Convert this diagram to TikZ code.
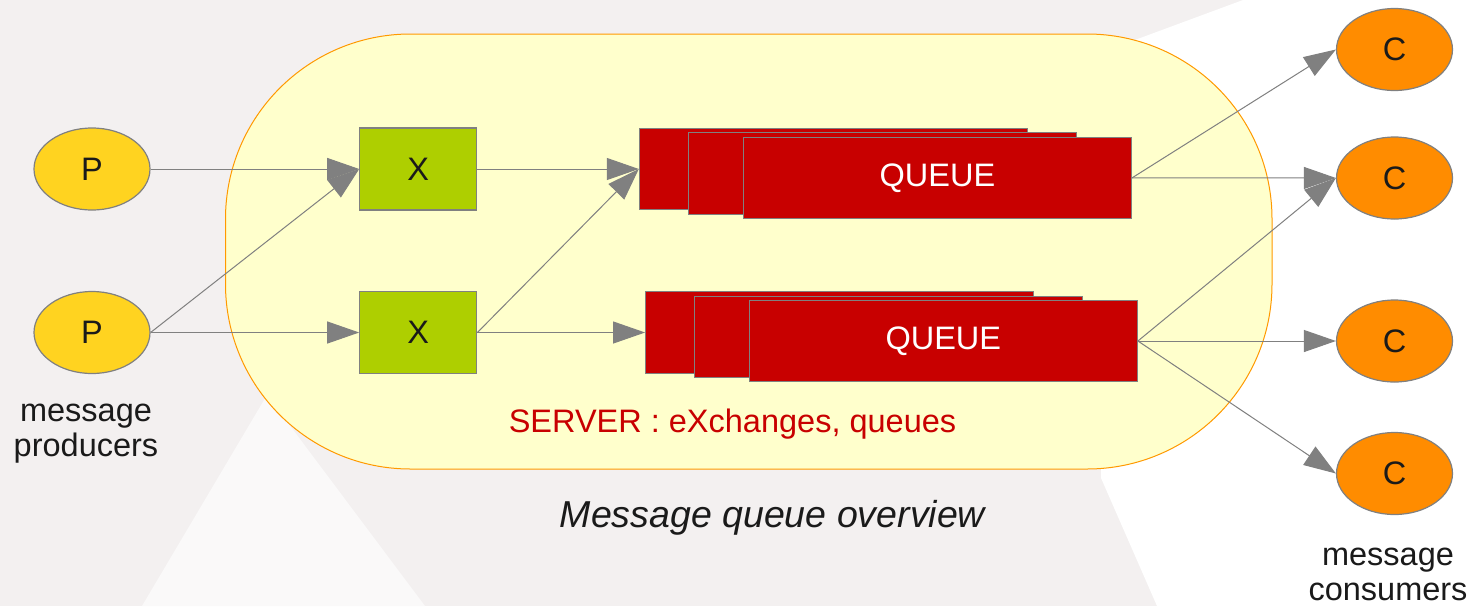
\documentclass[tikz,border=0pt]{standalone}
\usepackage{fontspec}
\setmainfont{Liberation Sans}
\usetikzlibrary{arrows.meta,shapes.geometric}

\definecolor{bgpaper}{RGB}{243,240,240}
\definecolor{bglight}{RGB}{250,249,249}
\definecolor{serverfill}{RGB}{255,255,204}
\definecolor{serverline}{RGB}{255,153,0}
\definecolor{prodfill}{RGB}{255,211,32}
\definecolor{exfill}{RGB}{174,207,0}
\definecolor{queuefill}{RGB}{200,0,0}
\definecolor{consfill}{RGB}{255,140,0}
\definecolor{edgegrey}{RGB}{128,128,128}
\definecolor{textdark}{RGB}{26,26,26}

\begin{document}
\begin{tikzpicture}[x=1pt,y=-1pt,
  lbl/.style={font=\fontsize{32.5}{35}\selectfont, text=textdark},
  producer/.style={ellipse, draw=edgegrey, line width=1.2pt, fill=prodfill,
    minimum width=116pt, minimum height=82pt, inner sep=0pt, lbl},
  consumer/.style={producer, fill=consfill},
  exchange/.style={rectangle, draw=edgegrey, line width=1.2pt, fill=exfill,
    minimum width=117pt, minimum height=82pt, inner sep=0pt, lbl},
  queuebox/.style={rectangle, draw=edgegrey, line width=1.2pt, fill=queuefill,
    minimum width=388pt, minimum height=81.5pt, inner sep=0pt, lbl, text=white},
  flow/.style={draw=edgegrey, line width=1pt,
    -{Triangle[length=32pt,width=22pt]}},
]
% page background with its pale facets
\fill[bgpaper] (0,0) rectangle (1483,606);
\fill[white] (1243,0) -- (1483,0) -- (1483,606) -- (1157,606)
  -- (1101,478) -- (1110,49) -- (1143,37) -- cycle;
\fill[bglight] (142,606) -- (267,395) -- (425,606) -- cycle;

% server area
\draw[serverline, fill=serverfill, line width=1pt, rounded corners=185pt]
  (225.5,34) rectangle (1272,469);

% producers
\node[producer] (p1) at (92,169) {P};
\node[producer] (p2) at (92,332.5) {P};

% exchanges
\node[exchange] (x1) at (418.3,169) {X};
\node[exchange] (x2) at (418.3,332.5) {X};

% queue stacks, back to front
\node[queuebox] (q1a) at (833.4,169) {};
\node[queuebox] (q1b) at (882.4,173.5) {};
\node[queuebox] (q1c) at (937.4,177.9) {QUEUE};
\node[queuebox] (q2a) at (839.7,332.5) {};
\node[queuebox] (q2b) at (888.3,336.9) {};
\node[queuebox] (q2c) at (943.3,341) {QUEUE};

% consumers
\node[consumer] (c1) at (1394.5,49.5) {C};
\node[consumer] (c2) at (1394.5,178) {C};
\node[consumer] (c3) at (1394.5,341) {C};
\node[consumer] (c4) at (1394.5,473.5) {C};

% connectors
\draw[flow] (p1.east) -- (x1.west);
\draw[flow] (p2.east) -- (x1.west);
\draw[flow] (p2.east) -- (x2.west);
\draw[flow] (x1.east) -- (q1a.west);
\draw[flow] (x2.east) -- (q1a.west);
\draw[flow] (x2.east) -- (q2a.west);
\draw[flow] (q1c.east) -- (c1.west);
\draw[flow] (q1c.east) -- (c2.west);
\draw[flow] (q2c.east) -- (c2.west);
\draw[flow] (q2c.east) -- (c3.west);
\draw[flow] (q2c.east) -- (c4.west);

% captions
\node[lbl, align=center] (prodlbl) at (86,434) {message\\producers};
\node[lbl, align=center] (conslbl) at (1388,574.5) {message\\consumers};
\node[lbl, text=queuefill, anchor=base] (serverlbl) at (732.5,432)
  {SERVER : eXchanges, queues};
\node[lbl, font=\fontsize{37.5}{40}\selectfont\itshape, anchor=base]
  (title) at (772.5,527) {Message queue overview};
\end{tikzpicture}
\end{document}
